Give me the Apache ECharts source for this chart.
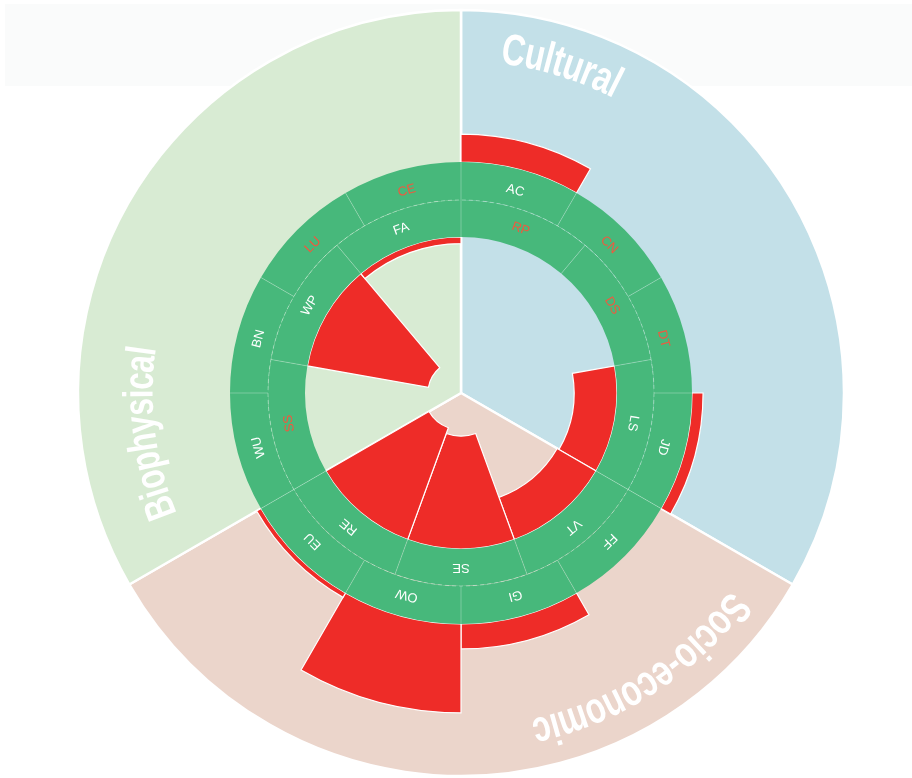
<!DOCTYPE html>
<html><head><meta charset="utf-8">
<script src="https://cdn.jsdelivr.net/npm/echarts@6/dist/echarts.min.js"></script>
<style>html,body{margin:0;padding:0;background:#fff}#c{width:912px;height:778px}</style>
</head><body><div id="c"></div>
<script>
// ---------------- data ----------------
const groupNames = ['Cultural', 'Socio-economic', 'Biophysical'];
const groupValues = [1, 1, 1];

const innerCategories = ['RP', 'DS', 'LS', 'VT', 'SE', 'RE', 'SS', 'WP', 'FA'];
const innerValues = [0, 0, 27.5, 28.8, 72.4, 76.3, 0, 78.8, 4.2];
const innerHighlight = [true, true, false, false, false, false, true, false, false];

const outerCategories = ['AC', 'CN', 'DT', 'JD', 'FF', 'GI', 'OW', 'EU', 'WU', 'BN', 'LU', 'CE'];
const outerValues = [17.9, 0, 0, 7.1, 0, 16, 57, 3.2, 0, 0, 0, 0];
const outerHighlight = [false, true, true, false, false, false, false, false, false, false, true, true];

// ---------------- layout & style ----------------
const CX = 461, CY = 393;
const R_BG = 383, R_IN = 156, R_MID = 193, R_RING = 231, R_OUT = 387;
const groupLabelLayout = [
  { offset: 6.8, r: 344, size: 44 },
  { offset: 6.3, r: 346, size: 44 },
  { offset: 7.1, r: 320, size: 42 }
];
const LABEL_SCALE_X = 0.74;
const COLORS = {
  red: '#ee2c28', green: '#47b87b', redText: '#f0593f', white: '#ffffff',
  bg: ['#c3e0e8', '#ebd5cb', '#d8ebd3']
};
const FONT = '"Liberation Sans", Arial, sans-serif';

const hidden = () => ({
  axisLine: { show: false }, axisTick: { show: false }, axisLabel: { show: false },
  splitLine: { show: false }, splitArea: { show: false }
});
const divider = { show: true, lineStyle: { color: 'rgba(255,255,255,0.28)', width: 1 } };

const measureCtx = document.createElement('canvas').getContext('2d');

function renderGroupLabel(params, api) {
  const i = params.dataIndex;
  const name = groupNames[i];
  const L = groupLabelLayout[i];
  const start = i * 360 / groupNames.length + L.offset;
  const font = 'bold ' + L.size + 'px ' + FONT;
  measureCtx.font = font;
  let s = 0;
  const children = [];
  for (const ch of name) {
    const w = measureCtx.measureText(ch).width * LABEL_SCALE_X;
    const ang = start + (s + w / 2) / L.r * 180 / Math.PI;
    const p = api.coord([L.r, ang]);
    children.push({
      type: 'text', x: p[0], y: p[1], rotation: -ang * Math.PI / 180,
      scaleX: LABEL_SCALE_X,
      style: { text: ch, font: font, fill: COLORS.white, align: 'center', verticalAlign: 'middle' }
    });
    s += w;
  }
  return { type: 'group', children: children };
}

const ringLabel = (dist) => ({
  show: true, position: 'insideStart', distance: dist, formatter: '{b}',
  fontSize: 13, fontFamily: FONT
});

const chart = echarts.init(document.getElementById('c'), null, { renderer: 'canvas' });
chart.setOption({
  animation: false,
  backgroundColor: '#ffffff',
  graphic: [{
    type: 'rect', left: 5, top: 4, z: -10, silent: true,
    shape: { width: 907, height: 82 }, style: { fill: '#fafbfb' }
  }],
  polar: [
    { center: [CX, CY], radius: [0, R_IN] },
    { center: [CX, CY], radius: [R_IN, R_MID] },
    { center: [CX, CY], radius: [R_MID, R_RING] },
    { center: [CX, CY], radius: [R_RING, R_OUT] },
    { center: [CX, CY], radius: [0, R_MID] },
    { center: [CX, CY], radius: [0, R_BG] }
  ],
  angleAxis: [
    Object.assign({ polarIndex: 0, type: 'category', data: innerCategories, startAngle: 90 }, hidden()),
    Object.assign({ polarIndex: 1, type: 'category', data: innerCategories, startAngle: 90, z: 4 }, hidden(), { splitLine: divider }),
    Object.assign({ polarIndex: 2, type: 'category', data: outerCategories, startAngle: 90, z: 4 }, hidden(), { splitLine: divider }),
    Object.assign({ polarIndex: 3, type: 'category', data: outerCategories, startAngle: 90 }, hidden()),
    Object.assign({ polarIndex: 4, type: 'value', min: 0, max: 360, startAngle: 90, z: 4 }, hidden(),
      { axisLine: { show: true, lineStyle: { color: 'rgba(255,255,255,0.35)', width: 1, type: [4, 3] } } }),
    Object.assign({ polarIndex: 5, type: 'value', min: 0, max: 360, startAngle: 90 }, hidden())
  ],
  radiusAxis: [
    Object.assign({ polarIndex: 0, type: 'value', min: 0, max: 100, inverse: true }, hidden()),
    Object.assign({ polarIndex: 1, type: 'value', min: 0, max: 1 }, hidden()),
    Object.assign({ polarIndex: 2, type: 'value', min: 0, max: 1 }, hidden()),
    Object.assign({ polarIndex: 3, type: 'value', min: 0, max: 100 }, hidden()),
    Object.assign({ polarIndex: 4, type: 'value', min: 0, max: 1 }, hidden()),
    Object.assign({ polarIndex: 5, type: 'value', min: 0, max: R_BG }, hidden())
  ],
  series: [
    {
      type: 'pie', center: [CX, CY], radius: [0, R_BG], startAngle: 90, z: 1, silent: true,
      label: { show: false }, labelLine: { show: false },
      itemStyle: { borderColor: '#ffffff', borderWidth: 2.5 },
      emphasis: { disabled: true },
      data: groupNames.map((n, i) => ({ name: n, value: groupValues[i], itemStyle: { color: COLORS.bg[i] } }))
    },
    {
      type: 'bar', coordinateSystem: 'polar', polarIndex: 0, z: 2, silent: true,
      barCategoryGap: '0%',
      itemStyle: { color: COLORS.red, borderColor: '#ffffff', borderWidth: 1.2 },
      data: innerValues.map(v => (v > 0 ? v : '-'))
    },
    {
      type: 'bar', coordinateSystem: 'polar', polarIndex: 3, z: 2, silent: true,
      barCategoryGap: '0%',
      itemStyle: { color: COLORS.red, borderColor: '#ffffff', borderWidth: 1.2 },
      data: outerValues.map(v => (v > 0 ? v : '-'))
    },
    {
      type: 'bar', coordinateSystem: 'polar', polarIndex: 1, z: 3, silent: true,
      barCategoryGap: '0%',
      itemStyle: { color: COLORS.green },
      label: ringLabel(12),
      data: innerCategories.map((c, i) => ({ value: 1, label: { color: innerHighlight[i] ? COLORS.redText : COLORS.white } }))
    },
    {
      type: 'bar', coordinateSystem: 'polar', polarIndex: 2, z: 3, silent: true,
      barCategoryGap: '0%',
      itemStyle: { color: COLORS.green },
      label: ringLabel(10),
      data: outerCategories.map((c, i) => ({ value: 1, label: { color: outerHighlight[i] ? COLORS.redText : COLORS.white } }))
    },
    {
      type: 'custom', coordinateSystem: 'polar', polarIndex: 5, z: 5, silent: true,
      renderItem: renderGroupLabel,
      data: groupNames.map(n => ({ name: n, value: [0, 0] }))
    }
  ]
});
</script>
</body></html>
